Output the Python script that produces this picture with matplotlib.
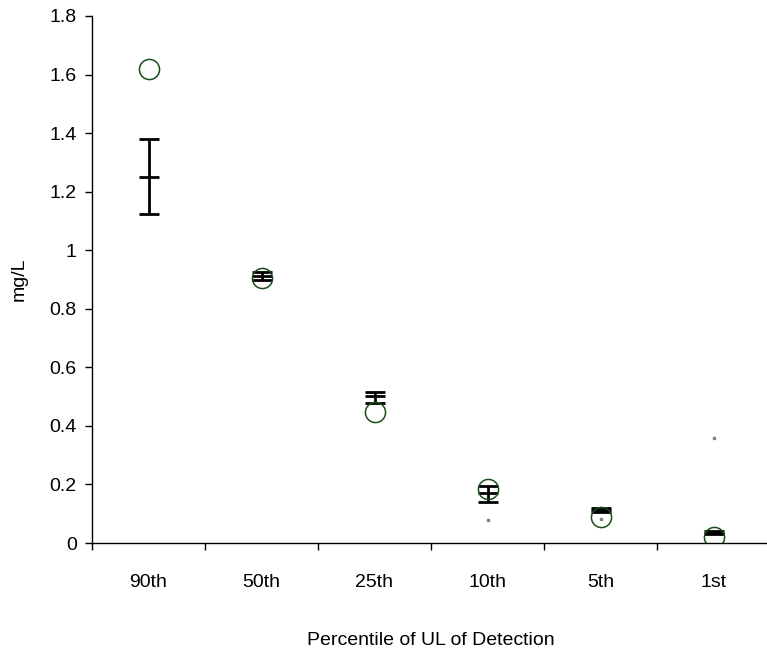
import matplotlib
matplotlib.use("Agg")
import matplotlib.pyplot as plt
import numpy as np

plt.rcParams['font.family'] = ['Liberation Sans', 'DejaVu Sans']

# categories and values
categories = ['90th', '50th', '25th', '10th', '5th', '1st']
observed = [1.62, 0.905, 0.448, 0.185, 0.09, 0.02]
est_mean = [1.25, 0.912, 0.503, 0.172, 0.112, 0.035]
est_low = [1.125, 0.898, 0.479, 0.14, 0.105, 0.03]
est_high = [1.38, 0.926, 0.515, 0.195, 0.12, 0.04]
dot_x = [3, 4, 5]
dot_y = [0.08, 0.082, 0.36]

fig = plt.figure(figsize=(7.67, 6.6), dpi=100)
ax = fig.add_axes([92 / 767, 1 - 543 / 660, 678 / 767, (543 - 16) / 660])

x = np.arange(len(categories))
mean = np.array(est_mean)
yerr = [mean - np.array(est_low), np.array(est_high) - mean]

# estimate with interval
ax.errorbar(x, mean, yerr=yerr, fmt='none', ecolor='black', elinewidth=2,
            capsize=7.5, capthick=2)
ax.plot(x, mean, linestyle='none', marker='_', markersize=15,
        markeredgewidth=2, color='black')

# observed percentile
ax.plot(x, observed, linestyle='none', marker='o', markersize=14.5,
        markerfacecolor='none', markeredgecolor='#1a4d1a', markeredgewidth=1.1)

# tiny gray points
ax.plot(dot_x, dot_y, linestyle='none', marker='s', markersize=1.5,
        color='#808080')

ax.set_xlim(-0.5, len(categories) - 0.5)
ax.set_ylim(0, 1.8)
ax.set_yticks(np.arange(0, 1.81, 0.2))
ax.set_yticklabels(['0', '0.2', '0.4', '0.6', '0.8', '1', '1.2', '1.4', '1.6', '1.8'])
ax.set_xticks(x)
ax.set_xticklabels(categories)
ax.set_xticks(np.arange(-0.5, len(categories), 1.0), minor=True)
ax.tick_params(axis='x', which='major', length=0, pad=22, labelsize=14)
ax.tick_params(axis='x', which='minor', length=5, width=1, direction='out')
ax.tick_params(axis='y', length=5, width=1, direction='out', labelsize=14, pad=6)

ax.spines['top'].set_visible(False)
ax.spines['right'].set_visible(False)
ax.spines['left'].set_linewidth(1)
ax.spines['bottom'].set_linewidth(1)

ax.set_ylabel('mg/L', fontsize=14, labelpad=16)
ax.set_xlabel('Percentile of UL of Detection', fontsize=14, labelpad=30)

fig.savefig('out.png', dpi=100)
